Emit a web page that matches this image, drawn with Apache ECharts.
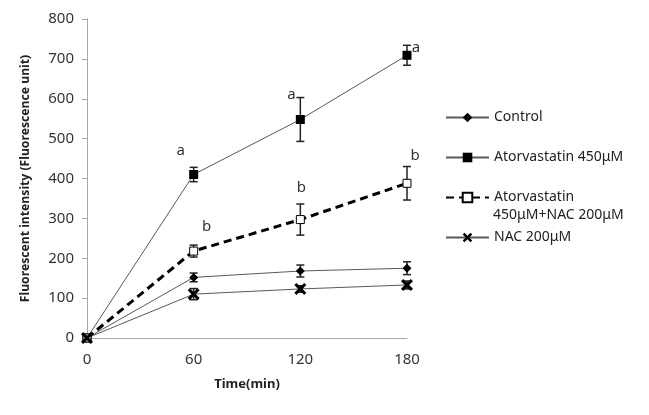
<!DOCTYPE html>
<html>
<head>
<meta charset="utf-8">
<script src="https://cdn.jsdelivr.net/npm/echarts@6/dist/echarts.min.js"></script>
<style>
html,body{margin:0;padding:0;background:#fff;}
#chart{width:649px;height:415px;}
</style>
</head>
<body>
<div id="chart"></div>
<script>
// ---- data ----
const times = [0, 60, 120, 180];
const seriesNames = ['Control', 'Atorvastatin 450μM', 'Atorvastatin', 'NAC 200μM'];
const comboSecondLine = '450μM+NAC 200μM';
const control = [0, 152, 168, 175];
const controlErr = [0, 11, 15, 16];
const ator = [0, 410, 548, 709];
const atorErr = [0, 18, 55, 25];
const combo = [0, 218, 297, 388];
const comboErr = [0, 15, 39, 42];
const nac = [0, 110, 123, 133];
const nacErr = [0, 14, 8, 10];
const atorSig = ['', 'a', 'a', 'a'];
const comboSig = ['', 'b', 'b', 'b'];
const yTicks = { min: 0, max: 800, interval: 100 };
const xTicks = { min: 0, max: 180, interval: 60 };

// ---- styles ----
const FONT = 'Noto Sans';
const atorSigOffset = [[0,0], [-13,-24], [-9,-25], [9,-8]];
const comboSigOffset = [[0,0], [13,-24], [1,-32], [8,-28]];
const xPath = 'path://M0,1.8L1.8,0L5,3.2L8.2,0L10,1.8L6.8,5L10,8.2L8.2,10L5,6.8L1.8,10L0,8.2L3.2,5Z';

function pts(vals, sig, offs) {
  return times.map((t, i) => {
    const d = { value: [t, vals[i]] };
    if (sig && sig[i]) {
      d.label = { show: true, formatter: sig[i], position: 'inside', offset: offs[i],
        color: '#333', fontSize: 15, fontFamily: FONT };
    }
    return d;
  });
}
function errData(vals, errs) {
  return times.map((t, i) => [t, vals[i], errs[i]]);
}
function renderErr(params, api) {
  const x = api.value(0), v = api.value(1), e = api.value(2);
  if (!e) return null;
  const top = api.coord([x, v + e]);
  const bot = api.coord([x, v - e]);
  const c = 4;
  const st = { stroke: '#222', lineWidth: 1.5 };
  return { type: 'group', children: [
    { type: 'line', shape: { x1: top[0], y1: top[1], x2: bot[0], y2: bot[1] }, style: st },
    { type: 'line', shape: { x1: top[0]-c, y1: top[1], x2: top[0]+c, y2: top[1] }, style: st },
    { type: 'line', shape: { x1: bot[0]-c, y1: bot[1], x2: bot[0]+c, y2: bot[1] }, style: st }
  ]};
}
function errSeries(vals, errs) {
  return { type: 'custom', renderItem: renderErr, data: errData(vals, errs), z: 3, silent: true,
    encode: { x: 0, y: 1 } };
}

const chart = echarts.init(document.getElementById('chart'), null, { renderer: 'canvas' });
const option = {
  animation: false,
  textStyle: { fontFamily: FONT },
  grid: { left: 87, right: 242, top: 19, bottom: 77 },
  xAxis: {
    type: 'value', min: xTicks.min, max: xTicks.max, interval: xTicks.interval,
    name: 'Time(min)', nameLocation: 'middle', nameGap: 40,
    nameTextStyle: { fontWeight: 'bold', fontSize: 13, color: '#222', fontFamily: FONT },
    axisLine: { lineStyle: { color: '#a6a6a6', width: 1 } },
    axisTick: { show: false },
    splitLine: { show: false },
    axisLabel: { color: '#333', fontSize: 15, margin: 14, fontFamily: FONT }
  },
  yAxis: {
    type: 'value', min: yTicks.min, max: yTicks.max, interval: yTicks.interval,
    name: 'Fluorescent intensity (Fluorescence unit)', nameLocation: 'middle', nameGap: 55,
    nameTextStyle: { fontWeight: 'bold', fontSize: 12.2, color: '#222', fontFamily: FONT },
    axisLine: { show: true, lineStyle: { color: '#a6a6a6', width: 1 } },
    axisTick: { show: true, inside: false, length: 5, lineStyle: { color: '#a6a6a6' } },
    splitLine: { show: false },
    axisLabel: { color: '#333', fontSize: 15, margin: 13, fontFamily: FONT }
  },
  legend: {
    orient: 'vertical', left: 440, top: 105, itemWidth: 43, itemHeight: 12, itemGap: 25,
    textStyle: { fontSize: 14, color: '#222', fontFamily: FONT, lineHeight: 15 },
    data: seriesNames
  },
  graphic: [{
    type: 'text', left: 493, top: 208,
    style: { text: comboSecondLine, fill: '#222', font: '14px "Noto Sans"' }
  }],
  series: [
    errSeries(control, controlErr),
    errSeries(ator, atorErr),
    errSeries(combo, comboErr),
    errSeries(nac, nacErr),
    { name: seriesNames[0], type: 'line', data: pts(control), z: 4,
      symbol: 'diamond', symbolSize: 9, itemStyle: { color: '#000' },
      lineStyle: { color: '#595959', width: 1 } },
    { name: seriesNames[1], type: 'line', data: pts(ator, atorSig, atorSigOffset), z: 4,
      symbol: 'rect', symbolSize: 9, itemStyle: { color: '#000' },
      lineStyle: { color: '#595959', width: 1 } },
    { name: seriesNames[2], type: 'line', data: pts(combo, comboSig, comboSigOffset), z: 4,
      symbol: 'rect', symbolSize: 8, itemStyle: { color: '#fff', borderColor: '#000', borderWidth: 1 },
      lineStyle: { color: '#000', width: 3, type: [8, 5] } },
    { name: seriesNames[3], type: 'line', data: pts(nac), z: 4,
      symbol: xPath, symbolSize: 12, itemStyle: { color: '#000' },
      lineStyle: { color: '#595959', width: 1 } }
  ]
};
chart.setOption(option);
</script>
</body>
</html>
